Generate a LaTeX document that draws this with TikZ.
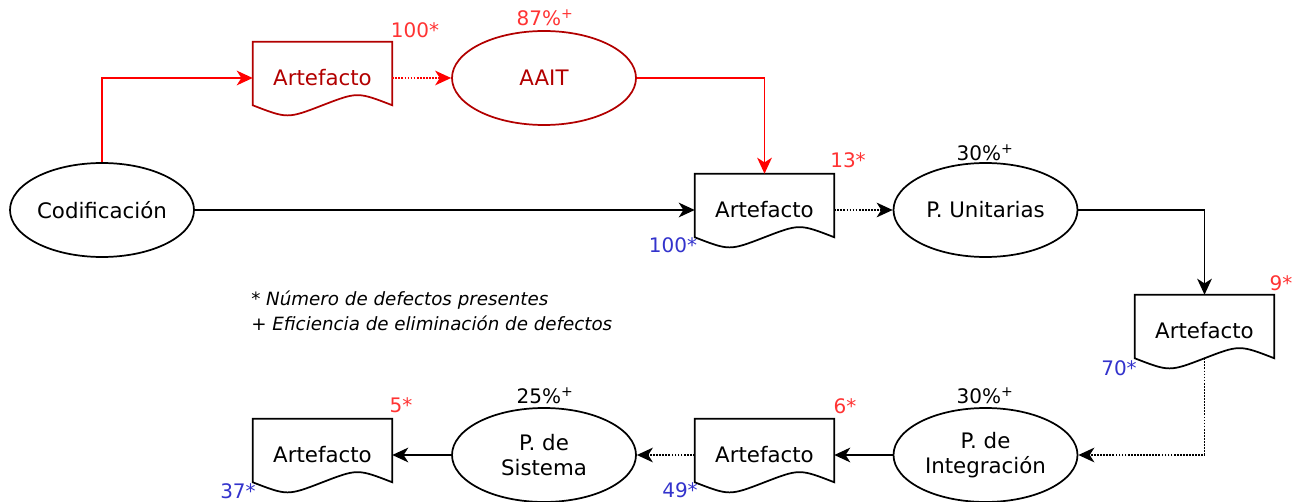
\documentclass[tikz,border=0pt]{standalone}
\usepackage{fontspec}
\setmainfont{DejaVu Sans}
\usetikzlibrary{arrows.meta,positioning,calc,shapes.geometric}
\definecolor{dred}{HTML}{B20000}
\definecolor{lred}{HTML}{FF3333}
\definecolor{lblue}{HTML}{3333CC}
\tikzset{
  proc/.style={ellipse, draw, line width=1.3pt, minimum width=138pt, minimum height=70.5pt,
    inner sep=0pt, align=center, font=\fontsize{16}{19}\selectfont},
  artef/.style={rectangle, minimum width=104.25pt, minimum height=54pt, inner sep=0pt,
    font=\fontsize{16}{19}\selectfont},
  cnt/.style={font=\fontsize{15}{18}\selectfont, inner sep=0pt},
  flow/.style={line width=1.3pt, -{Stealth[length=12pt,width=11pt,inset=3.5pt]}},
}

\begin{document}
\begin{tikzpicture}[x=0.75pt, y=-0.75pt]
    \useasboundingbox (0,0) rectangle (1299,502);

    % 1. Processes and artefacts
    \node[proc] (cod) at (102,210) {Codificación};
    \node[artef, text=dred] (a0) at (322.5,78) {Artefacto};
    \node[proc, draw=dred, text=dred] (aait) at (544,78) {AAIT};
    \node[artef] (a1) at (764.5,210) {Artefacto};
    \node[proc] (pu) at (985.5,210) {P. Unitarias};
    \node[artef] (a2) at (1204.5,331) {Artefacto};
    \node[proc] (pi) at (985.5,455) {P. de\\Integración};
    \node[artef] (a3) at (764.5,455) {Artefacto};
    \node[proc] (ps) at (544,455) {P. de\\Sistema};
    \node[artef] (a4) at (322.5,455) {Artefacto};

    % 2. Document outlines
    \foreach \n/\c in {a0/dred,a1/black,a2/black,a3/black,a4/black} {
        \draw[\c, line width=1.3pt] ($(\n.south west)+(0,-9)$) -- (\n.north west)
            -- (\n.north east) -- ($(\n.south east)+(0,-9)$)
            .. controls ($(\n.south)+(35,-22.5)$) .. ($(\n.south)+(0,-9)$)
            .. controls ($(\n.south)+(-35,4.5)$) .. cycle;
    }

    % 3. Defect counts and efficiencies
    \node[cnt, text=lred] (n0) at (415,30) {100*};
    \node[cnt, text=lred] (e0) at (545,18) {87\%\textsuperscript{+}};
    \node[cnt, text=lred] (n1) at (848,160) {13*};
    \node[cnt, text=lblue] (m1) at (673,245) {100*};
    \node[cnt] (e1) at (985,153) {30\%\textsuperscript{+}};
    \node[cnt, text=lred] (n2) at (1281,283) {9*};
    \node[cnt, text=lblue] (m2) at (1119,368) {70*};
    \node[cnt] (e2) at (985,396) {30\%\textsuperscript{+}};
    \node[cnt, text=lred] (n3) at (845,406) {6*};
    \node[cnt, text=lblue] (m3) at (680,490) {49*};
    \node[cnt] (e3) at (545,396) {25\%\textsuperscript{+}};
    \node[cnt, text=lred] (n4) at (401,405) {5*};
    \node[cnt, text=lblue] (m4) at (238,491) {37*};

    % 4. Legend
    \node[anchor=west, inner sep=0pt, font=\fontsize{13.7}{16}\selectfont\itshape] (ley1) at (251,300) {* Número de defectos presentes};
    \node[anchor=west, inner sep=0pt, font=\fontsize{13.7}{16}\selectfont\itshape] (ley2) at (251,323) {+ Eficiencia de eliminación de defectos};

    % 5. Connectors
    \draw[flow, red] (cod.north) |- (a0.west);
    \draw[flow, red, densely dotted] (a0) -- (aait);
    \draw[flow, red] (aait.east) -| (a1.north);
    \draw[flow] (cod) -- (a1);
    \draw[flow, densely dotted] (a1) -- (pu);
    \draw[flow] (pu.east) -| (a2.north);
    \draw[flow, densely dotted] ($(a2.south)+(0,-9)$) |- (pi.east);
    \draw[flow] (pi) -- (a3);
    \draw[flow, densely dotted] (a3) -- (ps);
    \draw[flow] (ps) -- (a4);

\end{tikzpicture}
\end{document}
